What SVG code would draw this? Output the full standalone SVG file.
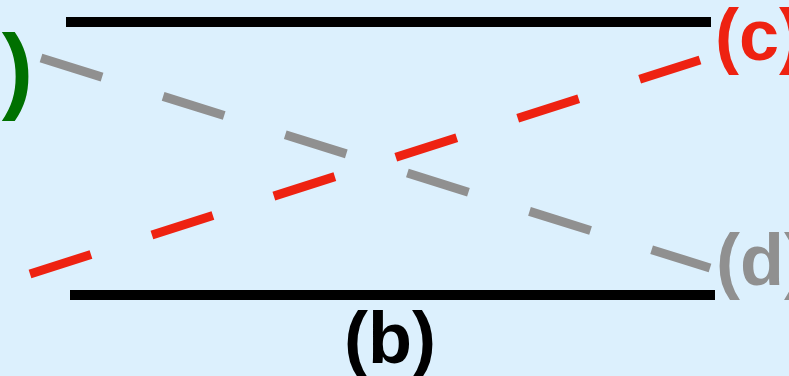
<svg xmlns="http://www.w3.org/2000/svg" width="789" height="376" viewBox="0 0 789 376">
<style>
.lbl{font-family:"Liberation Sans",Arial,sans-serif;font-weight:bold;font-size:72px}
.solid{stroke:#000;stroke-width:10;fill:none}
.dash{stroke-width:9;stroke-dasharray:64 64;fill:none}
</style>
<rect width="789" height="376" fill="#dcf0fd"/>
<g id="connectors">
<line class="solid" x1="66" y1="22" x2="711" y2="22"/>
<line class="solid" x1="70" y1="295" x2="715" y2="295"/>
<line class="dash" stroke="#ee2211" x1="30" y1="274" x2="700" y2="60"/>
<line class="dash" stroke="#909090" x1="41" y1="58" x2="710" y2="268"/>
</g>
<g id="label-a"><text class="lbl" x="33" y="101" fill="#007000" text-anchor="end" style="font-size:94px">(a<tspan dx="4">)</tspan></text></g>
<g id="label-b"><text class="lbl" x="390" y="363" fill="#000" text-anchor="middle">(b)</text></g>
<g id="label-c"><text class="lbl" x="715" y="60" fill="#ee2211">(c)</text></g>
<g id="label-d"><text class="lbl" x="716" y="285" fill="#909090">(d)</text></g>
</svg>
